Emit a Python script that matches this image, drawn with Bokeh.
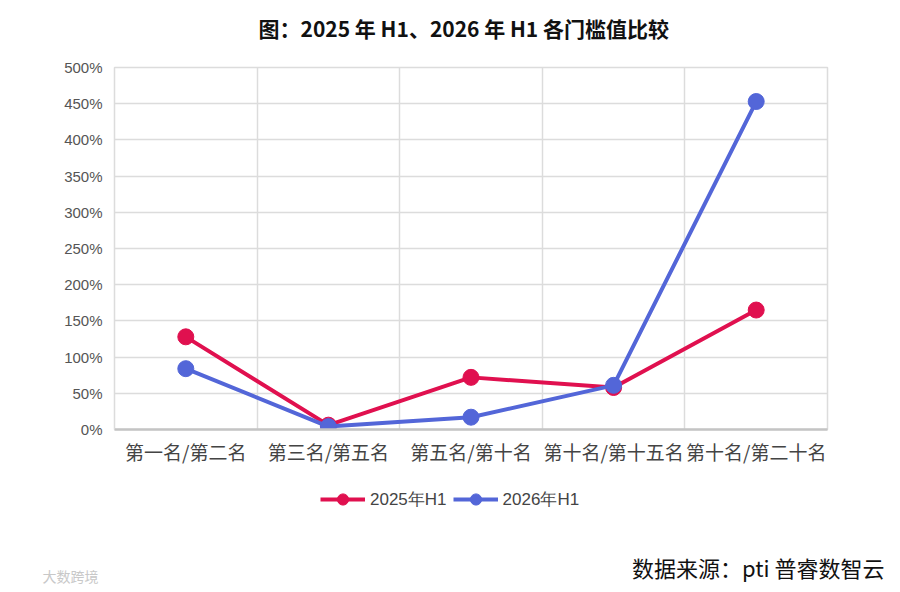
from bokeh.plotting import figure
from bokeh.models import Range1d, FixedTicker, Legend, LegendItem, ColumnDataSource, Label
from bokeh.layouts import column
from bokeh.embed import file_html
from bokeh.resources import INLINE

categories = ["第一名/第二名", "第三名/第五名", "第五名/第十名", "第十名/第十五名", "第十名/第二十名"]
series_2025 = [128, 6, 72, 58, 165]
series_2026 = [84, 4, 17, 61, 453]
y_ticks = [0, 50, 100, 150, 200, 250, 300, 350, 400, 450, 500]
series_names = ["2025年H1", "2026年H1"]
title_text = "图：2025 年 H1、2026 年 H1 各门槛值比较"
source_text = "数据来源：pti 普睿数智云"
watermark_text = "大数跨境"

RED = "#e0104f"
BLUE = "#5366d8"
CJK = "Noto Sans CJK SC"
W = 884


def no_align(fig):
    try:
        fig.frame_align = False
    except Exception:
        pass


def text_panel(h):
    fig = figure(width=W, height=h, output_backend="svg", toolbar_location=None,
                 x_range=Range1d(0, W), y_range=Range1d(0, h),
                 x_axis_type=None, y_axis_type=None,
                 min_border_left=0, min_border_right=0, min_border_top=0, min_border_bottom=0)
    fig.grid.visible = False
    fig.outline_line_color = None
    fig.background_fill_color = "white"
    fig.border_fill_color = "white"
    no_align(fig)
    return fig


xs = [i + 0.5 for i in range(len(categories))]
src = ColumnDataSource(dict(x=xs, a=series_2025, b=series_2026))

# ---------------- header: title ----------------
HH = 55
h = text_panel(HH)
h.add_layout(Label(x=258, y=HH - 27, text=title_text, text_font=CJK, text_font_size="21px",
                   text_font_style="bold", text_color="#111111",
                   text_align="left", text_baseline="middle"))

# ---------------- main chart ----------------
p = figure(width=W, height=413, output_backend="svg", toolbar_location=None,
           x_range=Range1d(0, len(categories)), y_range=Range1d(0, 500),
           min_border_left=114, min_border_right=57, min_border_top=12, min_border_bottom=39)
no_align(p)
p.background_fill_color = "white"
p.border_fill_color = "white"
p.outline_line_color = "#dcdcdc"
p.outline_line_width = 1.5

p.xgrid.ticker = FixedTicker(ticks=list(range(len(categories) + 1)))
p.xgrid.grid_line_color = "#dcdcdc"
p.xgrid.grid_line_width = 1.5
p.ygrid.ticker = FixedTicker(ticks=y_ticks)
p.ygrid.grid_line_color = "#dcdcdc"
p.ygrid.grid_line_width = 1.5

p.xaxis.ticker = FixedTicker(ticks=xs)
p.xaxis.major_label_overrides = {x: c for x, c in zip(xs, categories)}
p.xaxis.major_label_text_font = CJK
p.xaxis.major_label_text_font_size = "19px"
p.xaxis.major_label_text_color = "#444444"
p.xaxis.major_label_standoff = 8
p.xaxis.major_tick_out = 0
p.xaxis.major_tick_in = 0
p.xaxis.major_tick_line_color = None
p.xaxis.minor_tick_line_color = None
p.xaxis.axis_line_color = "#c4c4c4"
p.xaxis.axis_line_width = 2.5

p.yaxis.ticker = FixedTicker(ticks=y_ticks)
p.yaxis.major_label_overrides = {t: f"{t}%" for t in y_ticks}
p.yaxis.major_label_text_font = "Liberation Sans"
p.yaxis.major_label_text_font_size = "15px"
p.yaxis.major_label_text_color = "#555555"
p.yaxis.major_label_standoff = 12
p.yaxis.major_tick_out = 0
p.yaxis.major_tick_in = 0
p.yaxis.major_tick_line_color = None
p.yaxis.minor_tick_line_color = None
p.yaxis.axis_line_color = "#dcdcdc"

p.line("x", "a", source=src, line_color=RED, line_width=4)
p.scatter("x", "a", source=src, size=16, fill_color=RED, line_color=RED)
p.line("x", "b", source=src, line_color=BLUE, line_width=4)
p.scatter("x", "b", source=src, size=16, fill_color=BLUE, line_color=BLUE)

# ---------------- footer: legend + source ----------------
FH = 116
f = text_panel(FH)
fl1 = f.line("x", "a", source=src, line_color=RED, line_width=4, visible=False)
fc1 = f.scatter("x", "a", source=src, size=12, fill_color=RED, line_color=RED, visible=False)
fl2 = f.line("x", "b", source=src, line_color=BLUE, line_width=4, visible=False)
fc2 = f.scatter("x", "b", source=src, size=12, fill_color=BLUE, line_color=BLUE, visible=False)

legend = Legend(items=[LegendItem(label=series_names[0], renderers=[fl1, fc1]),
                       LegendItem(label=series_names[1], renderers=[fl2, fc2])],
                orientation="horizontal", location=(320, 71),
                label_text_font="Liberation Sans", label_text_font_size="17px",
                label_text_color="#444444", glyph_width=45, glyph_height=28,
                spacing=6, label_standoff=5, border_line_color=None,
                background_fill_alpha=0, inactive_fill_alpha=0,
                margin=0, padding=0)
f.add_layout(legend)

f.add_layout(Label(x=884, y=18, text=source_text, text_font=CJK, text_font_size="22px",
                   text_color="#111111", text_align="right", text_baseline="middle"))
f.add_layout(Label(x=42, y=9, text=watermark_text, text_font=CJK, text_font_size="14px",
                   text_color="#c8c8c8", text_align="left", text_baseline="middle"))

open("out.html", "w").write(file_html(column(h, p, f), INLINE))
